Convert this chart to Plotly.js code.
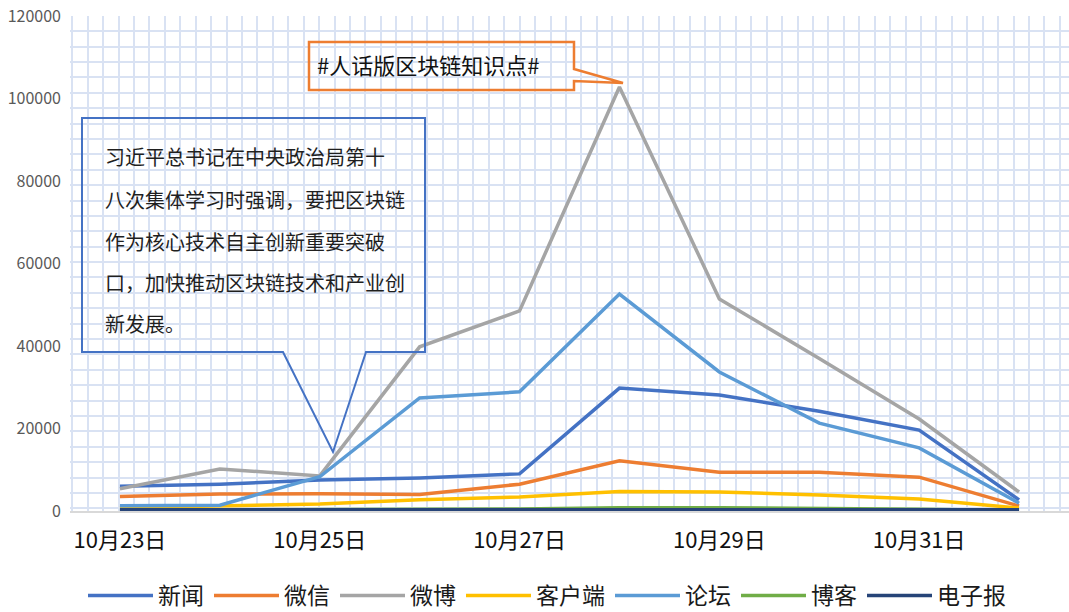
<!DOCTYPE html>
<html>
<head>
<meta charset="utf-8">
<script src="https://cdn.plot.ly/plotly-3.0.1.min.js"></script>
<style>html,body{margin:0;padding:0;background:#fff;}#chart{width:1069px;height:612px;}</style>
</head>
<body>
<div id="chart"></div>
<script>
// ---- data ----
var dates = ['10月23日','10月24日','10月25日','10月26日','10月27日','10月28日','10月29日','10月30日','10月31日','11月1日'];
var seriesNames = ['新闻','微信','微博','客户端','论坛','博客','电子报'];
var news     = [6000, 6500, 7500, 8000, 9000, 29800, 28100, 24200, 19600, 2700];
var wechat   = [3500, 4100, 4200, 4000, 6500, 12200, 9400, 9400, 8200, 1200];
var weibo    = [5400, 10200, 8500, 39800, 48500, 102800, 51400, 37000, 22300, 4600];
var client   = [800, 1200, 1700, 2700, 3400, 4700, 4600, 3900, 2900, 700];
var forum    = [1300, 1400, 8300, 27400, 28900, 52600, 33700, 21300, 15300, 1900];
var blog     = [200, 200, 300, 400, 500, 800, 800, 700, 400, 100];
var epaper   = [300, 300, 300, 300, 300, 500, 500, 500, 400, 300];
var calloutLines = ['习近平总书记在中央政治局第十','八次集体学习时强调，要把区块链','作为核心技术自主创新重要突破','口，加快推动区块链技术和产业创','新发展。'];
var topicLabel = '#人话版区块链知识点#';

// ---- styling ----
var colors = ['#4472C4','#ED7D31','#A5A5A5','#FFC000','#5B9BD5','#70AD47','#264478'];
var values = [news, wechat, weibo, client, forum, blog, epaper];
var FONT = '"Noto Sans CJK SC", "Noto Sans", sans-serif';

var traces = values.map(function(v, i){
  return {x: dates, y: v, name: seriesNames[i], type: 'scatter', mode: 'lines',
          line: {color: colors[i], width: 3.5}, xaxis: 'x', yaxis: 'y', hoverinfo: 'x+y+name'};
});
// dummy trace to activate the graph-paper grid axes
traces.unshift({x: [null], y: [null], xaxis: 'x2', yaxis: 'y2', showlegend: false, hoverinfo: 'skip', mode: 'lines'});

// pixel -> paper helpers (plot area: left 70, width 999, bottom 511, height 495)
var L = 70, W = 999, B = 511, H = 495;
function px(x){ return (x - L) / W; }
function py(y){ return (B - y) / H; }
function pathFrom(pts){
  return pts.map(function(p, i){ return (i ? 'L' : 'M') + px(p[0]).toFixed(5) + ',' + py(p[1]).toFixed(5); }).join(' ') + ' Z';
}

var blueCallout = pathFrom([[283,352],[82,352],[82,118],[425,118],[425,352],[366,352],[333,452]]);
var orangeCallout = pathFrom([[309,42],[574,42],[574,69],[623,83],[574,81],[574,90],[309,90]]);

var lineY = [157, 199, 241, 282, 323];
var annotations = calloutLines.map(function(t, i){
  return {text: t, xref: 'paper', yref: 'paper', x: px(103), y: py(lineY[i]), xanchor: 'left', yanchor: 'middle',
          showarrow: false, font: {family: FONT, size: 20, color: '#1f1f1f'}};
});
annotations.push({text: topicLabel, xref: 'paper', yref: 'paper', x: px(315), y: py(64), xanchor: 'left', yanchor: 'middle',
                  showarrow: false, font: {family: FONT, size: 22, color: '#111111'}});

var layout = {
  width: 1069, height: 612,
  margin: {l: L, r: 0, t: 16, b: 101, pad: 0, autoexpand: false},
  paper_bgcolor: '#ffffff', plot_bgcolor: 'rgba(0,0,0,0)',
  font: {family: FONT},
  showlegend: true,
  legend: {orientation: 'h', x: px(83), xanchor: 'left', y: py(595.5), yanchor: 'middle',
           font: {family: FONT, size: 23, color: '#1a1a1a'}, itemwidth: 65, traceorder: 'normal',
           bgcolor: 'rgba(0,0,0,0)'},
  xaxis: {type: 'category', range: [-0.5, 9.5], dtick: 2, showgrid: false, zeroline: false,
          showline: true, linecolor: '#D9D9D9', linewidth: 1.5, ticks: '', ticklabelstandoff: 9,
          tickfont: {family: FONT, size: 22, color: '#111111'}, fixedrange: true},
  yaxis: {range: [0, 120000], dtick: 20000, showgrid: false, zeroline: false, showline: false,
          ticks: '', ticklabelstandoff: 8, tickfont: {family: FONT, size: 16, color: '#595959'},
          tickformat: 'd', fixedrange: true},
  xaxis2: {overlaying: 'x', anchor: 'y2', range: [0, W], tick0: 2.3, dtick: 15.43, showgrid: true,
           gridcolor: '#D9E2F3', gridwidth: 2, showticklabels: false, ticks: '', zeroline: false, showline: false},
  yaxis2: {overlaying: 'y', anchor: 'x2', range: [0, H], tick0: 2.7, dtick: 15.39, showgrid: true,
           gridcolor: '#D9E2F3', gridwidth: 2, showticklabels: false, ticks: '', zeroline: false, showline: false},
  shapes: [
    {type: 'path', xref: 'paper', yref: 'paper', path: blueCallout, line: {color: '#4472C4', width: 2}, fillcolor: 'rgba(0,0,0,0)', layer: 'above'},
    {type: 'path', xref: 'paper', yref: 'paper', path: orangeCallout, line: {color: '#ED7D31', width: 2.5}, fillcolor: 'rgba(0,0,0,0)', layer: 'above'}
  ],
  annotations: annotations
};

Plotly.newPlot('chart', traces, layout, {displayModeBar: false, staticPlot: true});
</script>
</body>
</html>
